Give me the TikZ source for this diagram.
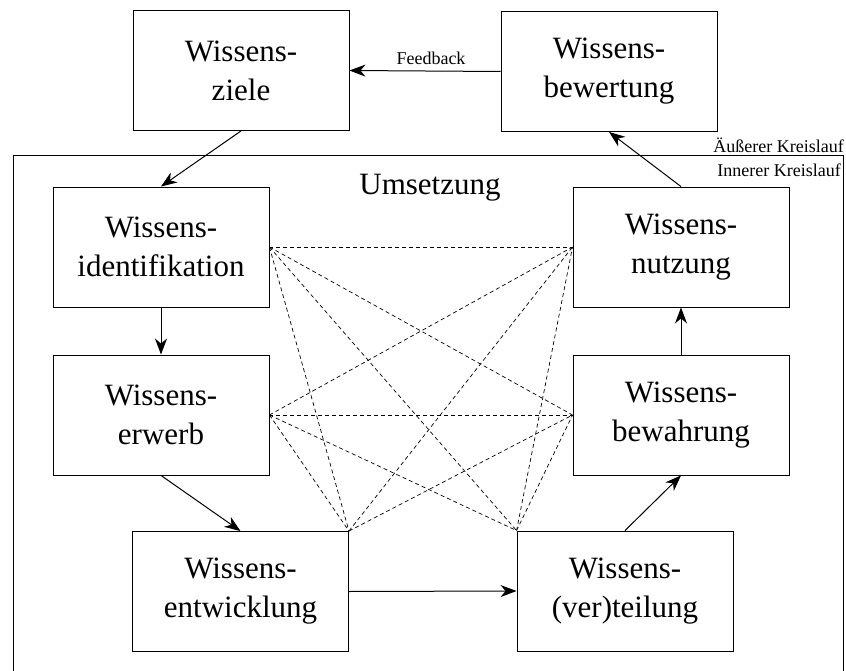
\documentclass[tikz,border=0pt]{standalone}
\usepackage{fontspec}
\setmainfont{Liberation Serif}
\usetikzlibrary{arrows.meta}
\begin{document}
\begin{tikzpicture}[x=1pt,y=-1pt,
  box/.style={draw, line width=0.9pt, minimum width=216pt, minimum height=120pt, inner sep=0pt, align=center, font=\fontsize{31}{39}\selectfont},
  flow/.style={line width=1pt, -{Stealth[length=16pt,width=12pt,inset=5pt]}},
  link/.style={line width=0.7pt, dash pattern=on 4pt off 3pt},
  small/.style={font=\fontsize{18}{22}\selectfont, inner sep=0pt},
  big/.style={font=\fontsize{31}{39}\selectfont, inner sep=0pt}]
\useasboundingbox (0,0) rectangle (846,671);
% outer frame (Umsetzung)
\draw[line width=0.9pt] (13,690) -- (13,155) -- (843,155) -- (843,690);
\node[small, anchor=base east] (outer) at (844,153) {Äußerer Kreislauf};
\node[small, anchor=base east] (inner) at (841,177) {Innerer Kreislauf};
\node[big, anchor=base] (ums) at (430,195) {Umsetzung};
% boxes
\node[box] (ziele) at (241,70.5) {Wissens-\\ziele};
\node[box] (bewert) at (609,71.5) {Wissens-\\bewertung};
\node[box] (ident) at (161,247) {Wissens-\\identifikation};
\node[box] (nutz) at (681,247) {Wissens-\\nutzung};
\node[box] (erwerb) at (161,415) {Wissens-\\erwerb};
\node[box] (bewahr) at (681,415) {Wissens-\\bewahrung};
\node[box] (entw) at (240.5,591.5) {Wissens-\\entwicklung};
\node[box] (vert) at (625,591) {Wissens-\\(ver)teilung};
% dashed links
\foreach \a/\b in {ident.east/nutz.west, ident.east/bewahr.west, ident.east/entw.north east, ident.east/vert.north west,
                   erwerb.east/nutz.west, erwerb.east/bewahr.west, erwerb.east/entw.north east, erwerb.east/vert.north west,
                   entw.north east/nutz.west, entw.north east/bewahr.west,
                   vert.north west/nutz.west, vert.north west/bewahr.west}
  \draw[link] (\a) -- (\b);
% solid flow arrows
\draw[flow] (ziele.south) -- (ident.north);
\draw[flow] (ident.south) -- (erwerb.north);
\draw[flow] (erwerb.south) -- (entw.north);
\draw[flow] (entw.east) -- (vert.west);
\draw[flow] (vert.north) -- (bewahr.south);
\draw[flow] (bewahr.north) -- (nutz.south);
\draw[flow] (nutz.north) -- (bewert.south);
\draw[flow] (bewert.west) -- node[small, above=6pt, xshift=6pt] (fb) {Feedback} (ziele.east);
\end{tikzpicture}
\end{document}
